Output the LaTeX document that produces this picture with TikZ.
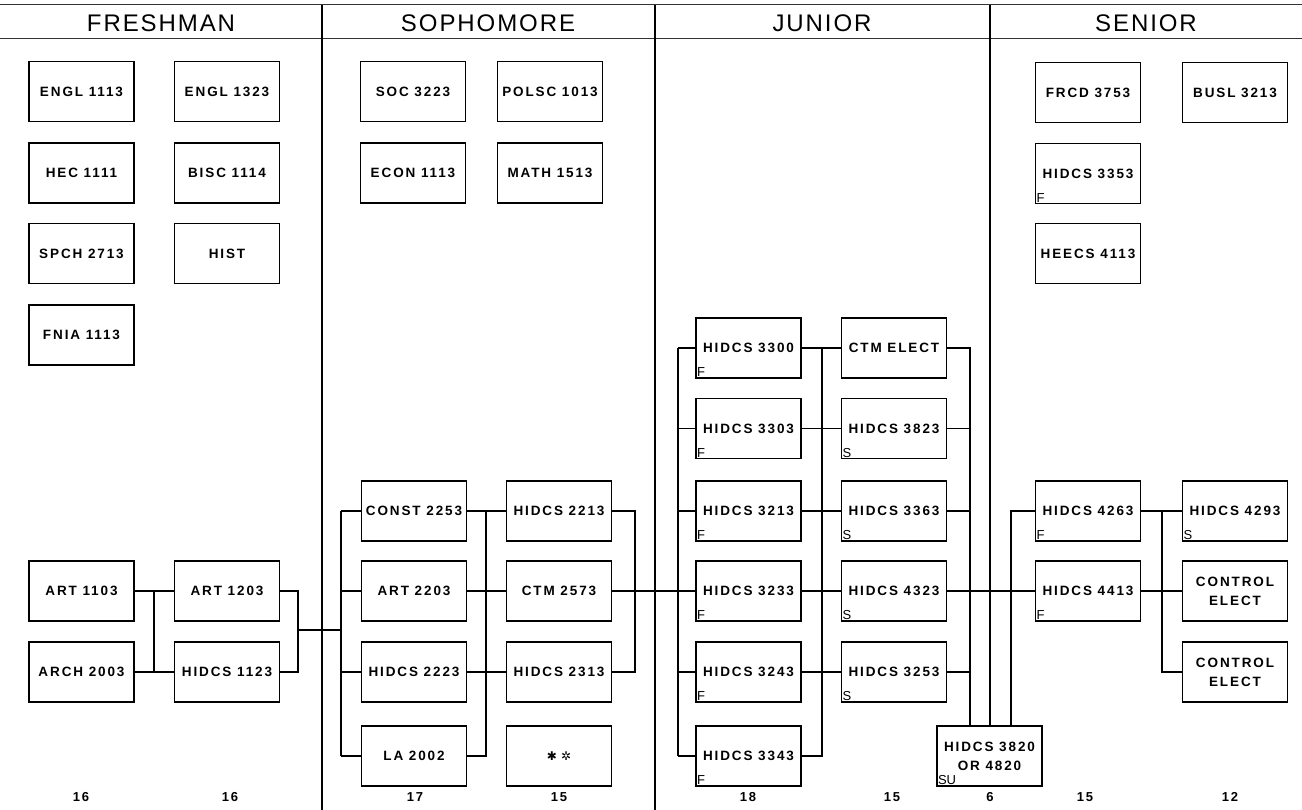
\documentclass[tikz,border=0pt]{standalone}
\usepackage{fontspec}
\setmainfont{Liberation Sans}
\newfontfamily\boxfont[LetterSpace=14]{Liberation Sans}
\newfontfamily\headfont[LetterSpace=8]{Liberation Sans}
\newfontfamily\symfont{DejaVu Sans}
\begin{document}
\begin{tikzpicture}[x=1pt,y=-1pt,
 course/.style={draw, line width=1.3pt, minimum width=105pt, minimum height=60pt, inner sep=0pt, align=center, fill=white, font=\boxfont\bfseries\fontsize{13.5}{19}\selectfont},
 wire/.style={line width=1.2pt},
 divider/.style={line width=1.2pt},
 rule/.style={line width=1pt, black!80},
 term/.style={font=\fontsize{13}{13}\selectfont, inner sep=1pt, anchor=south west},
 head/.style={font=\headfont\fontsize{24}{24}\selectfont},
 total/.style={font=\boxfont\bfseries\fontsize{13}{13}\selectfont}
]
\useasboundingbox (0,0) rectangle (1302,810);
\fill[white] (0,0) rectangle (1302,810);

% header
\coordinate (hl0) at (0,5);
\coordinate (hl1) at (1302,5);
\coordinate (hb0) at (0,39);
\coordinate (hb1) at (1302,39);
\draw[rule] (hl0) -- (hl1);
\draw[rule] (hb0) -- (hb1);
\node[head] (hfr) at (161,23) {FRESHMAN};
\node[head] (hso) at (488,23) {SOPHOMORE};
\node[head] (hju) at (822,23) {JUNIOR};
\node[head] (hse) at (1146,23) {SENIOR};

% dividers
\coordinate (d1t) at (322,5); \coordinate (d1b) at (322,810);
\coordinate (d2t) at (655,5); \coordinate (d2b) at (655,810);
\coordinate (d3t) at (990,5);
\draw[divider] (d1t) -- (d1b);
\draw[divider] (d2t) -- (d2b);

% freshman
\node[course] (engl1113) at (81.5,91.5) {ENGL 1113};
\node[course] (engl1323) at (227,91.5) {ENGL 1323};
\node[course] (hec1111) at (81.5,173) {HEC 1111};
\node[course] (bisc1114) at (227,173) {BISC 1114};
\node[course] (spch2713) at (81.5,253.5) {SPCH 2713};
\node[course] (hist) at (227,253.5) {HIST};
\node[course] (fnia1113) at (81.5,335) {FNIA 1113};
\node[course] (art1103) at (81.5,591) {ART 1103};
\node[course] (arch2003) at (81.5,672) {ARCH 2003};
\node[course] (art1203) at (227,591) {ART 1203};
\node[course] (h1123) at (227,672) {HIDCS 1123};

% sophomore
\node[course] (soc3223) at (413,91.5) {SOC 3223};
\node[course] (polsc1013) at (550,91.5) {POLSC 1013};
\node[course] (econ1113) at (413,173) {ECON 1113};
\node[course] (math1513) at (550,173) {MATH 1513};
\node[course] (const2253) at (414,511) {CONST 2253};
\node[course] (art2203) at (414,591) {ART 2203};
\node[course] (h2223) at (414,672) {HIDCS 2223};
\node[course] (la2002) at (414,756) {LA 2002};
\node[course] (h2213) at (559,511) {HIDCS 2213};
\node[course] (ctm2573) at (559,591) {CTM 2573};
\node[course] (h2313) at (559,672) {HIDCS 2313};
\node[course] (stars) at (559,756) {\symfont\fontsize{12}{12}\selectfont ✱ ✲};

% junior
\node[course] (h3300) at (748.5,348) {HIDCS 3300};
\node[course] (h3303) at (748.5,428.5) {HIDCS 3303};
\node[course] (h3213) at (748.5,511) {HIDCS 3213};
\node[course] (h3233) at (748.5,591) {HIDCS 3233};
\node[course] (h3243) at (748.5,672) {HIDCS 3243};
\node[course] (h3343) at (748.5,756) {HIDCS 3343};
\node[course] (ctmelect) at (894,348) {CTM ELECT};
\node[course] (h3823) at (894,428.5) {HIDCS 3823};
\node[course] (h3363) at (894,511) {HIDCS 3363};
\node[course] (h4323) at (894,591) {HIDCS 4323};
\node[course] (h3253) at (894,672) {HIDCS 3253};

% senior
\node[course] (frcd3753) at (1088,92.5) {FRCD 3753};
\node[course] (busl3213) at (1235,92.5) {BUSL 3213};
\node[course] (h3353) at (1088,173.5) {HIDCS 3353};
\node[course] (heecs4113) at (1088,253.5) {HEECS 4113};
\node[course] (h4263) at (1088,511) {HIDCS 4263};
\node[course] (h4413) at (1088,591) {HIDCS 4413};
\node[course] (h4293) at (1235,511) {HIDCS 4293};
\node[course] (ctrl1) at (1235,591) {CONTROL\\ELECT};
\node[course] (ctrl2) at (1235,672) {CONTROL\\ELECT};
\node[course] (h3820) at (989.5,756) {HIDCS 3820\\OR 4820};

\draw[divider] (d3t) -- (d3t |- h3820.north);

% term labels
\foreach \n/\t in {h3300/F,h3303/F,h3213/F,h3233/F,h3243/F,h3343/F,
  h3823/S,h3363/S,h4323/S,h3253/S,h3353/F,h4263/F,h4413/F,h4293/S,h3820/SU}{
  \node[term] (lab-\n) at ([shift={(0.5,-0.5)}]\n.south west) {\t};
}

% trunk coordinates
\coordinate (fa) at (154,0);
\coordinate (fb) at (298,0);
\coordinate (sa) at (341,0);
\coordinate (sb) at (486,0);
\coordinate (sc) at (635,0);
\coordinate (ja) at (678,0);
\coordinate (jb) at (822,0);
\coordinate (jc) at (970,0);
\coordinate (jd) at (1011,0);
\coordinate (na) at (1162,0);
\coordinate (fjoin) at (298,630);
\coordinate (sjoin) at (341,630);

% freshman wires
\draw[wire] (art1103.east) -- (art1203.west);
\draw[wire] (arch2003.east) -- (h1123.west);
\draw[wire] (fa |- art1103.east) -- (fa |- arch2003.east);
\draw[wire] (art1203.east) -| (fb |- h1123.east) -- (h1123.east);
\draw[wire] (fjoin) -- (sjoin);

% sophomore wires
\draw[wire] (sa |- const2253.west) -- (sa |- la2002.west);
\foreach \n in {const2253,art2203,h2223,la2002}{\draw[wire] (sa |- \n.west) -- (\n.west);}
\draw[wire] (const2253.east) -- (h2213.west);
\draw[wire] (art2203.east) -- (ctm2573.west);
\draw[wire] (h2223.east) -- (h2313.west);
\draw[wire] (la2002.east) -- (sb |- la2002.east) -- (sb |- const2253.east);
\draw[wire] (h2213.east) -- (sc |- h2213.east) -- (sc |- h2313.east) -- (h2313.east);
\draw[wire] (ctm2573.east) -- (h3233.west);

% junior wires
\draw[wire] (ja |- h3300.west) -- (ja |- h3343.west);
\foreach \n in {h3300,h3303,h3213,h3243,h3343}{\draw[wire] (ja |- \n.west) -- (\n.west);}
\draw[wire] (h3300.east) -- (ctmelect.west);
\draw[wire] (h3303.east) -- (h3823.west);
\draw[wire] (h3213.east) -- (h3363.west);
\draw[wire] (h3233.east) -- (h4323.west);
\draw[wire] (h3243.east) -- (h3253.west);
\draw[wire] (h3343.east) -- (jb |- h3343.east) -- (jb |- h3300.east);
\draw[wire] (ctmelect.east) -- (jc |- ctmelect.east) -- (jc |- h3820.north);
\foreach \n in {h3823,h3363,h3253}{\draw[wire] (\n.east) -- (jc |- \n.east);}
\draw[wire] (h4323.east) -- (h4413.west);
\draw[wire] (h4263.west) -- (jd |- h4263.west) -- (jd |- h3820.north);

% senior wires
\draw[wire] (h4263.east) -- (h4293.west);
\draw[wire] (h4413.east) -- (ctrl1.west);
\draw[wire] (na |- h4263.east) -- (na |- ctrl2.west) -- (ctrl2.west);

% credit totals
\node[total] (t1) at (81,797) {16};
\node[total] (t2) at (230,797) {16};
\node[total] (t3) at (415,797) {17};
\node[total] (t4) at (559,797) {15};
\node[total] (t5) at (748,797) {18};
\node[total] (t6) at (892,797) {15};
\node[total] (t7) at (990,797) {6};
\node[total] (t8) at (1085,797) {15};
\node[total] (t9) at (1230,797) {12};
\end{tikzpicture}
\end{document}
